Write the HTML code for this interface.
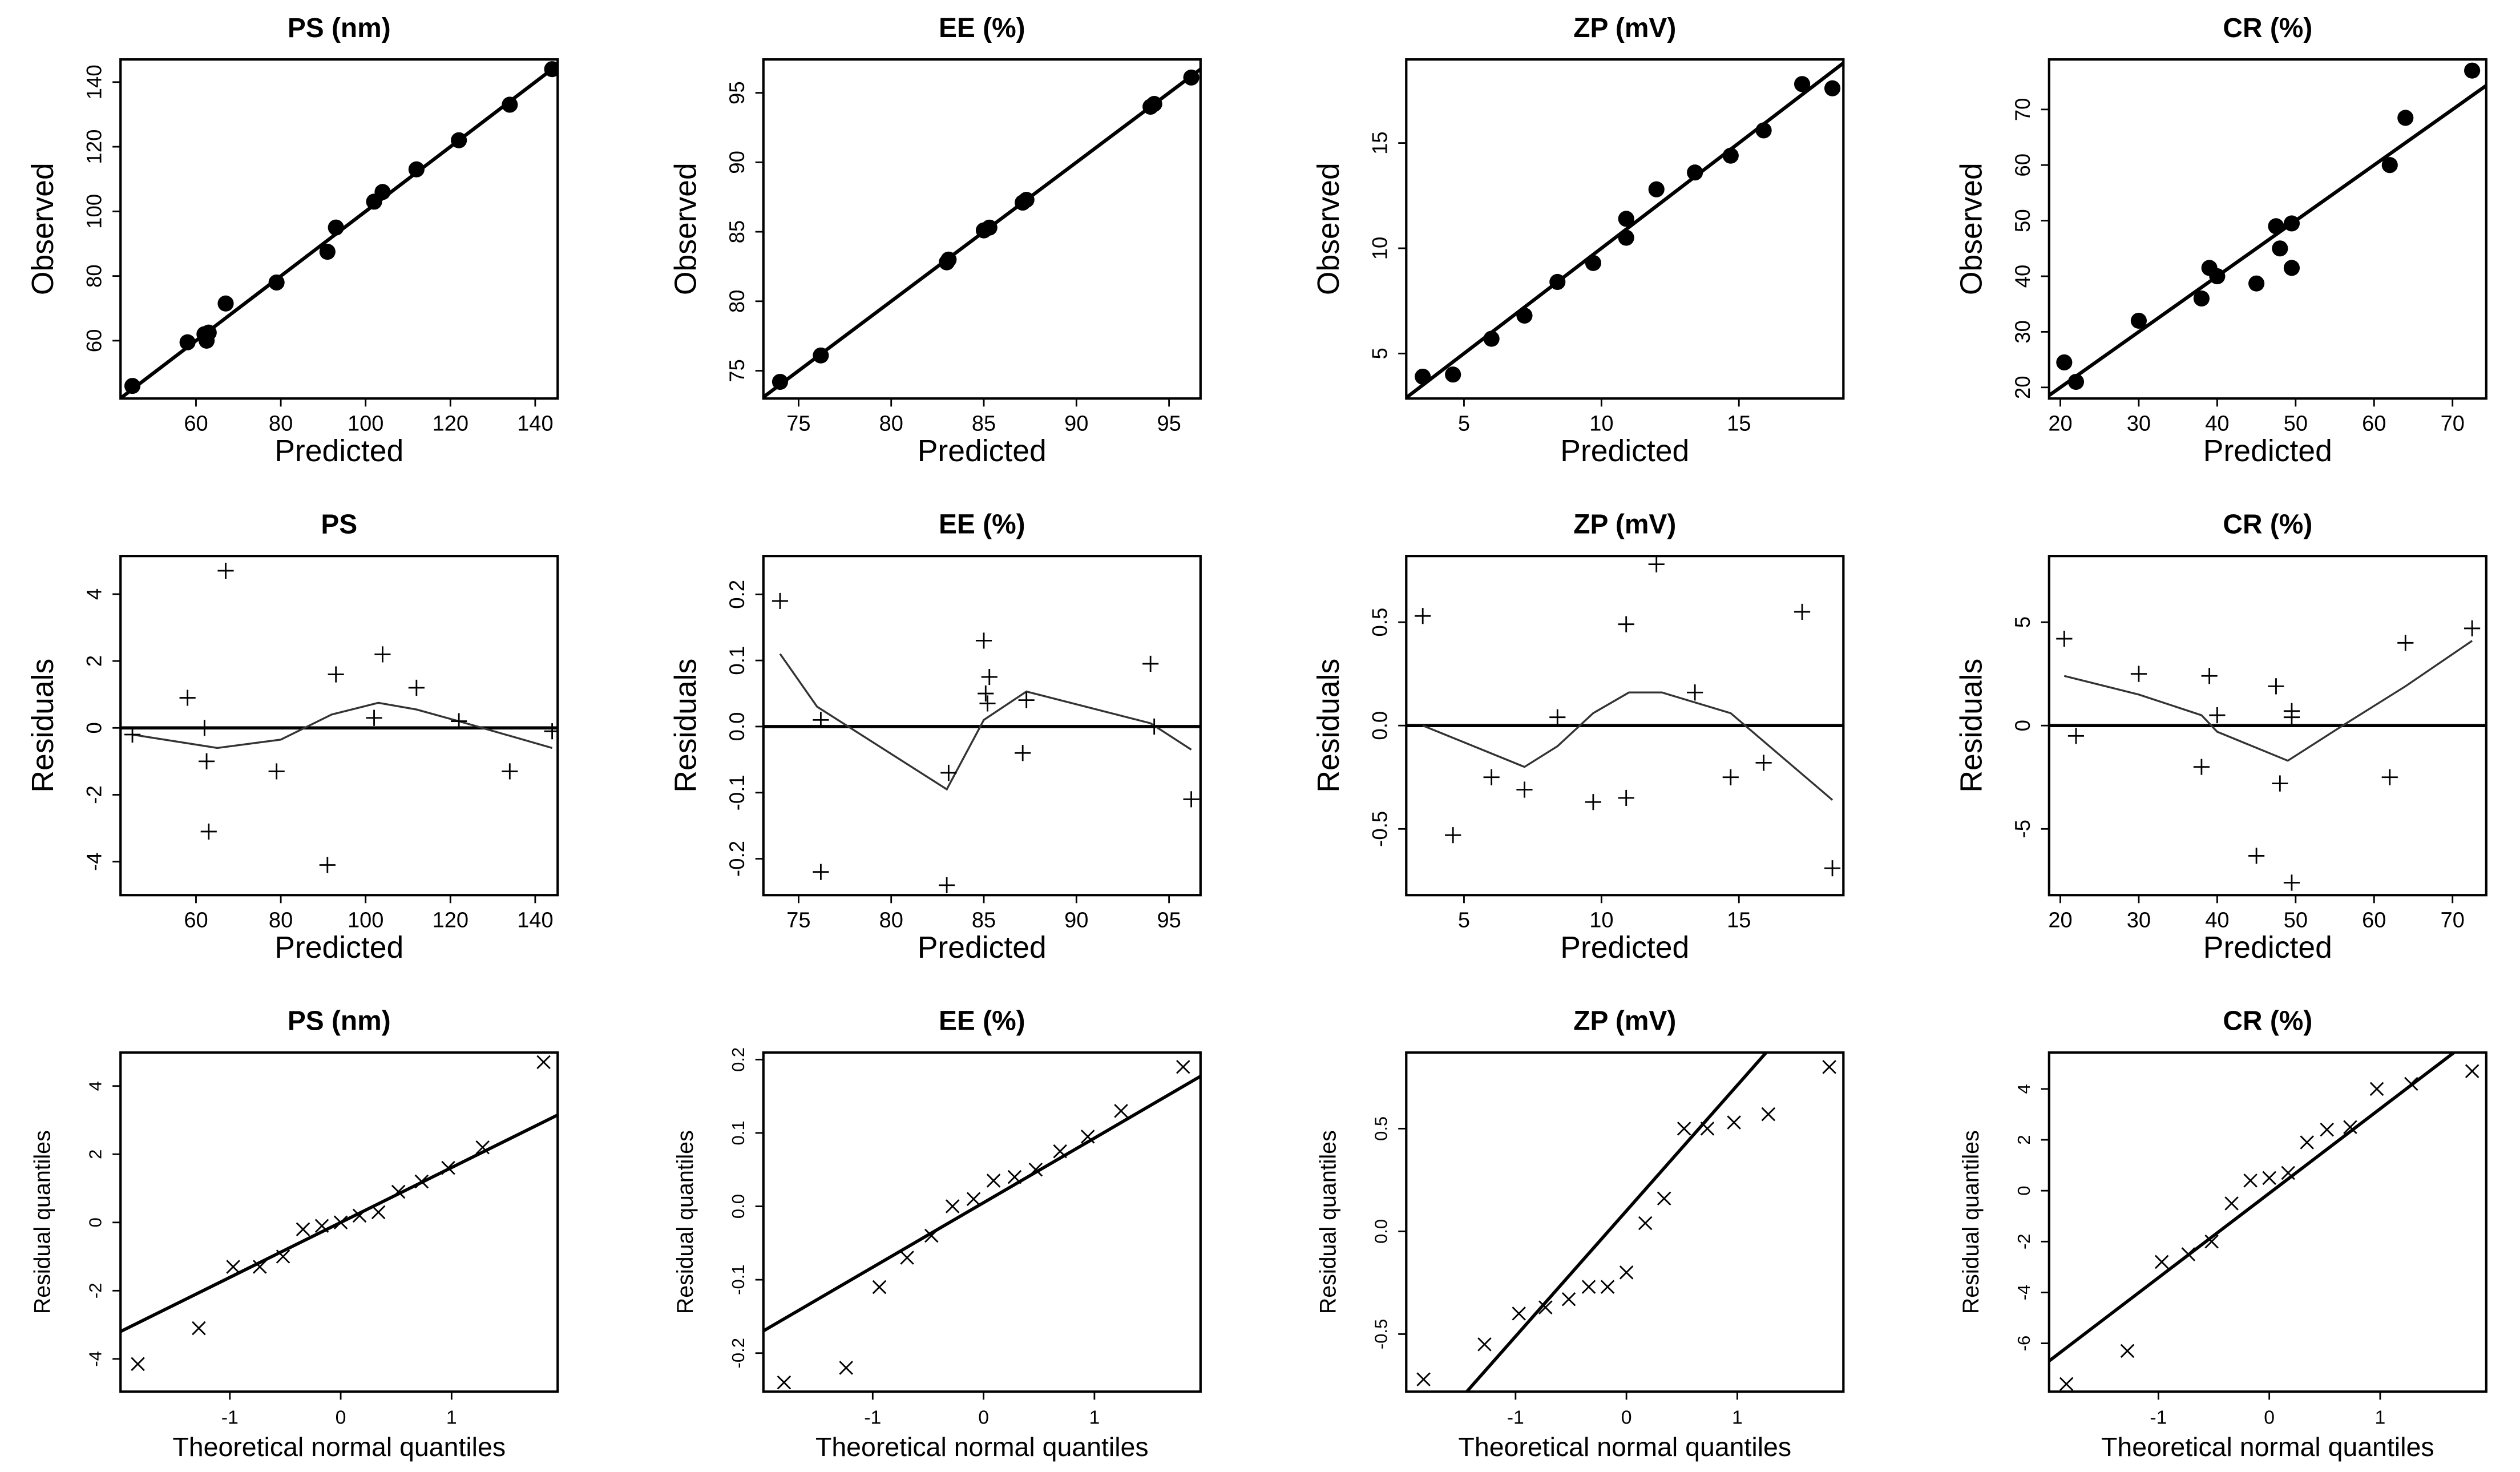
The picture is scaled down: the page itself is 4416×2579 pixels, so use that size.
<!DOCTYPE html>
<html><head><meta charset="utf-8"><style>
html,body{margin:0;padding:0;background:#fff}
svg{display:block}
text{font-family:"Liberation Sans",Arial,sans-serif;fill:#000}
</style></head><body>
<svg id="fig" xmlns="http://www.w3.org/2000/svg" width="4416" height="2579" viewBox="0 0 1568 916" preserveAspectRatio="none"></svg>
<script>
// ---- data ----
const titlesRow1 = ["PS (nm)","EE (%)","ZP (mV)","CR (%)"];
const titlesRow2 = ["PS","EE (%)","ZP (mV)","CR (%)"];
const titlesRow3 = ["PS (nm)","EE (%)","ZP (mV)","CR (%)"];

const psPred = [45,58,62,62.5,63,67,79,91,93,102,104,112,122,134,144];
const psObs  = [46,59.5,62,60,62.5,71.5,78,87.5,95,103,106,113,122,133,144];
const eePred = [74,76.2,83,83.1,85,85.3,87.1,87.3,94,94.2,96.2];
const eeObs  = [74.2,76.1,82.8,83,85.1,85.3,87.1,87.3,94,94.2,96.1];
const zpPred = [3.5,4.6,6,7.2,8.4,9.7,10.9,10.9,12,13.4,14.7,15.9,17.3,18.4];
const zpObs  = [3.9,4.0,5.7,6.8,8.4,9.3,10.5,11.4,12.8,13.6,14.4,15.6,17.8,17.6];
const crPred = [20.5,22,30,38,39,40,45,47.5,48,49.5,49.5,62,64,72.5];
const crObs  = [24.5,21,32,36,41.5,40,38.7,49,45,49.5,41.5,60,68.5,77];

const psResX = [45,58,62,62.5,63,67,79,91,93,102,104,112,122,134,144];
const psResY = [-0.2,0.9,0,-1.0,-3.1,4.7,-1.3,-4.1,1.6,0.3,2.2,1.2,0.2,-1.3,-0.1];
const psLowX = [45,60,65,80,92,103,112,122,144];
const psLowY = [-0.2,-0.5,-0.6,-0.35,0.4,0.75,0.55,0.2,-0.6];
const eeResX = [74,76.2,76.2,83,83.1,85,85.1,85.2,85.3,87.1,87.3,94,94.2,96.2];
const eeResY = [0.19,0.01,-0.22,-0.24,-0.07,0.13,0.05,0.035,0.075,-0.04,0.04,0.095,0,-0.11];
const eeLowX = [74,76,83,85,87.3,94,96.2];
const eeLowY = [0.11,0.03,-0.095,0.01,0.053,0.005,-0.035];
const zpResX = [3.5,4.6,6,7.2,8.4,9.7,10.9,10.9,12,13.4,14.7,15.9,17.3,18.4];
const zpResY = [0.53,-0.53,-0.25,-0.31,0.04,-0.37,-0.35,0.49,0.78,0.16,-0.25,-0.18,0.55,-0.69];
const zpLowX = [3.5,7.2,8.4,9.7,11,12.2,14.7,18.4];
const zpLowY = [0,-0.2,-0.1,0.06,0.16,0.16,0.06,-0.36];
const crResX = [20.5,22,30,38,39,40,45,47.5,48,49.5,49.5,49.5,62,64,72.5];
const crResY = [4.2,-0.5,2.5,-2,2.4,0.5,-6.3,1.9,-2.8,0.7,0.4,-7.6,-2.5,4,4.7];
const crLowX = [20.5,30,38,40,49,56,64,72.5];
const crLowY = [2.4,1.5,0.5,-0.3,-1.7,0,1.9,4.1];

const q15 = [-1.83,-1.28,-0.97,-0.73,-0.52,-0.34,-0.17,0,0.17,0.34,0.52,0.73,0.97,1.28,1.83];
const q14 = [-1.80,-1.24,-0.94,-0.69,-0.47,-0.28,-0.09,0.09,0.28,0.47,0.69,0.94,1.24,1.80];
const psQ = [-4.15,-3.1,-1.3,-1.3,-1.0,-0.2,-0.1,0,0.2,0.3,0.9,1.2,1.6,2.2,4.7];
const eeQ = [-0.24,-0.22,-0.11,-0.07,-0.04,0,0.01,0.035,0.04,0.05,0.075,0.095,0.13,0.19];
const zpQ = [-0.72,-0.55,-0.4,-0.37,-0.33,-0.27,-0.27,-0.2,0.04,0.16,0.5,0.5,0.53,0.57,0.8];
const crQ = [-7.6,-6.3,-2.8,-2.5,-2,-0.5,0.4,0.5,0.7,1.9,2.4,2.5,4,4.2,4.7];
const qqLineA = [0,0.005,0.1,-0.1];
const qqLineB = [1.61,0.088,0.611,3.32];

const xTicks = [[60,80,100,120,140],[75,80,85,90,95],[5,10,15],[20,30,40,50,60,70]];
const y1Ticks = [[60,80,100,120,140],[75,80,85,90,95],[5,10,15],[20,30,40,50,60,70]];
const y2Ticks = [[-4,-2,0,2,4],[-0.2,-0.1,0,0.1,0.2],[-0.5,0,0.5],[-5,0,5]];
const y2Labels = [["-4","-2","0","2","4"],["-0.2","-0.1","0.0","0.1","0.2"],["-0.5","0.0","0.5"],["-5","0","5"]];
const y3Ticks = [[-4,-2,0,2,4],[-0.2,-0.1,0,0.1,0.2],[-0.5,0,0.5],[-6,-4,-2,0,2,4]];
const y3Labels = [["-4","-2","0","2","4"],["-0.2","-0.1","0.0","0.1","0.2"],["-0.5","0.0","0.5"],["-6","-4","-2","0","2","4"]];
const qqTicks = [-1,0,1];

// ---- layout ----
const svg = document.getElementById('fig');
const NS = 'http://www.w3.org/2000/svg';
const colLeft = [75,475,875,1275], boxW = 272;
const rowTop = [37,346,655], boxH = 211;
const xDom = [[42.2,145.3],[73.1,96.7],[2.9,18.8],[18.57,74.3]];
const y1Dom = [[42.1,147],[73.0,97.4],[2.86,18.97],[18,79]];
const y2Dom = [[-5.0,5.14],[-0.255,0.258],[-0.82,0.82],[-8.2,8.2]];
const qDom = [-1.986,1.957];
const y3Dom = [[-4.96,4.98],[-0.2525,0.2095],[-0.78,0.87],[-7.9,5.43]];

function el(tag, attrs, parent){const e=document.createElementNS(NS,tag);for(const k in attrs)e.setAttribute(k,attrs[k]);(parent||svg).appendChild(e);return e;}
function scale(d,r){return v=>r[0]+(v-d[0])/(d[1]-d[0])*(r[1]-r[0]);}

let clipId=0;
function panel(row,col,xd,yd,xt,xl,yt,yl,title,xlab,ylab,small){
  const L=colLeft[col],T=rowTop[row],R=L+boxW,B=T+boxH;
  const g=el('g',{});
  
  
  const sx=scale(xd,[L,R]), sy=scale(yd,[B,T]);
  const cid='c'+(clipId++);
  const cp=el('clipPath',{id:cid},g); el('rect',{x:L,y:T,width:boxW,height:boxH},cp);
  const t=el('text',{x:L+boxW/2,y:T-14,'text-anchor':'middle','font-size':17,'font-weight':'bold'},g);t.textContent=title;
  
  
  const box=el('rect',{x:L,y:T,width:boxW,height:boxH,fill:'none',stroke:'#000','stroke-width':1.5},g);
  
  
  xt.forEach((v,i)=>{const x=sx(v);el('line',{x1:x,x2:x,y1:B,y2:B+5,stroke:'#000','stroke-width':1},g);
    const tx=el('text',{x:x,y:B+20,'text-anchor':'middle','font-size':small?12:13.5},g);tx.textContent=xl[i];
    
    });
  yt.forEach((v,i)=>{const y=sy(v);el('line',{x1:L,x2:L-5,y1:y,y2:y,stroke:'#000','stroke-width':1},g);
    const ty=el('text',{x:0,y:0,'text-anchor':'middle','font-size':small?11:13,transform:`translate(${L-12},${y}) rotate(-90)`},g);ty.textContent=yl[i];
    
    });
  const xa=el('text',{x:L+boxW/2,y:B+(small?40:39),'text-anchor':'middle','font-size':small?16.5:19},g);xa.textContent=xlab;
  
  
  const ya=el('text',{x:0,y:0,'text-anchor':'middle','font-size':small?14:19,transform:`translate(${L-(small?44:42)},${T+boxH/2}) rotate(-90)`},g);ya.textContent=ylab;
  
  
  const plot=el('g',{'clip-path':`url(#${cid})`},g);
  return {sx,sy,plot,L,R,T,B};
}
function fmt(a){return a.map(String);}

const obsX=[psPred,eePred,zpPred,crPred], obsY=[psObs,eeObs,zpObs,crObs];
const resX=[psResX,eeResX,zpResX,crResX], resY=[psResY,eeResY,zpResY,crResY];
const lowX=[psLowX,eeLowX,zpLowX,crLowX], lowY=[psLowY,eeLowY,zpLowY,crLowY];
const qqY=[psQ,eeQ,zpQ,crQ], qqX=[q15,q14,q15,q15];

for(let c=0;c<4;c++){
  let p=panel(0,c,xDom[c],y1Dom[c],xTicks[c],fmt(xTicks[c]),y1Ticks[c],fmt(y1Ticks[c]),titlesRow1[c],'Predicted','Observed',false);
  const lo=Math.min(xDom[c][0],y1Dom[c][0]), hi=Math.max(xDom[c][1],y1Dom[c][1]);
  const idl=el('line',{x1:p.sx(lo),y1:p.sy(lo),x2:p.sx(hi),y2:p.sy(hi),stroke:'#000','stroke-width':2.2},p.plot);
  
  
  obsX[c].forEach((v,i)=>{const d=el('circle',{cx:p.sx(v),cy:p.sy(obsY[c][i]),r:5,fill:'#000'},p.plot);
    
    });
  p=panel(1,c,xDom[c],y2Dom[c],xTicks[c],fmt(xTicks[c]),y2Ticks[c],y2Labels[c],titlesRow2[c],'Predicted','Residuals',false);
  const zl=el('line',{x1:p.L,x2:p.R,y1:p.sy(0),y2:p.sy(0),stroke:'#000','stroke-width':2},p.plot);
  
  
  const lp=el('polyline',{points:lowX[c].map((v,i)=>p.sx(v)+','+p.sy(lowY[c][i])).join(' '),fill:'none',stroke:'#333','stroke-width':1.2},p.plot);
  
  
  resX[c].forEach((v,i)=>{const x=p.sx(v),y=p.sy(resY[c][i]);
    const m=el('path',{d:`M${x-5},${y}H${x+5}M${x},${y-5}V${y+5}`,stroke:'#000','stroke-width':1},p.plot);
    
    });
  p=panel(2,c,qDom,y3Dom[c],qqTicks,fmt(qqTicks),y3Ticks[c],y3Labels[c],titlesRow3[c],'Theoretical normal quantiles','Residual quantiles',true);
  const a=qqLineA[c],b=qqLineB[c];
  const ql=el('line',{x1:p.sx(qDom[0]),y1:p.sy(a+b*qDom[0]),x2:p.sx(qDom[1]),y2:p.sy(a+b*qDom[1]),stroke:'#000','stroke-width':2},p.plot);
  
  
  qqX[c].forEach((v,i)=>{const x=p.sx(v),y=p.sy(qqY[c][i]);
    const m=el('path',{d:`M${x-4},${y-4}L${x+4},${y+4}M${x-4},${y+4}L${x+4},${y-4}`,stroke:'#000','stroke-width':1},p.plot);
    
    });
}
</script>
</body></html>
